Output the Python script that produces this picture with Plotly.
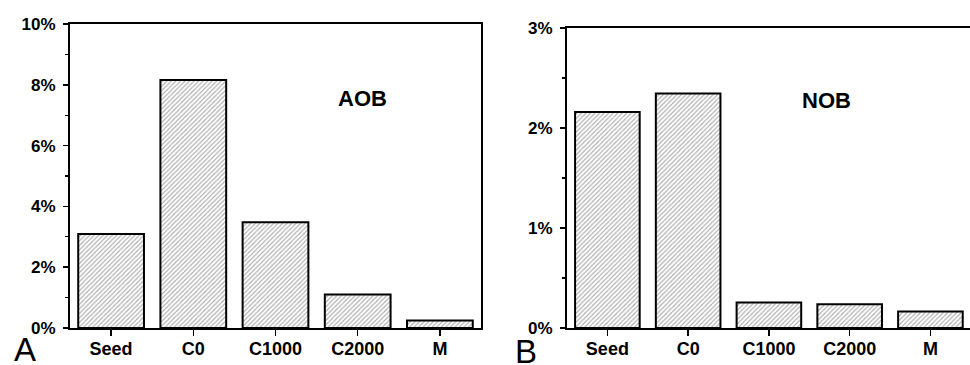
import plotly.graph_objects as go

categories = ["Seed", "C0", "C1000", "C2000", "M"]
aob_values = [3.09, 8.16, 3.48, 1.10, 0.25]
nob_values = [2.16, 2.345, 0.254, 0.237, 0.164]
aob_tickvals = [0, 2, 4, 6, 8, 10]
aob_ticktext = ["0%", "2%", "4%", "6%", "8%", "10%"]
nob_tickvals = [0, 1, 2, 3]
nob_ticktext = ["0%", "1%", "2%", "3%"]

W, H = 970, 365
fig = go.Figure()

bar_style = dict(
    width=0.8,
    marker=dict(
        color="white",
        line=dict(color="black", width=2),
        pattern=dict(shape="/", size=3.2, solidity=0.35, fgcolor="#555555", bgcolor="white"),
    ),
    showlegend=False,
)

fig.add_trace(go.Bar(x=categories, y=aob_values, xaxis="x", yaxis="y", **bar_style))
fig.add_trace(go.Bar(x=categories, y=nob_values, xaxis="x2", yaxis="y2", **bar_style))

tickfont = dict(family="Liberation Sans, Arial, sans-serif", size=17, color="black", weight="bold")

common_x = dict(
    showgrid=False, zeroline=False, showline=True, linecolor="black", linewidth=2,
    ticks="outside", ticklen=6, tickwidth=1.5, tickcolor="black",
    tickfont=dict(tickfont, size=18), ticklabelstandoff=-3, automargin=False,
    range=[-0.5, 4.5], fixedrange=True,
)
common_y = dict(
    showgrid=False, zeroline=False, showline=True, linecolor="black", linewidth=2,
    ticks="outside", ticklen=5, tickwidth=1.5, tickcolor="black",
    tickfont=tickfont, ticklabelstandoff=4, automargin=False, fixedrange=True,
)

fig.update_layout(
    width=W, height=H,
    margin=dict(l=0, r=0, t=0, b=0, autoexpand=False),
    paper_bgcolor="white", plot_bgcolor="white",
    bargap=0.2,
    xaxis=dict(common_x, domain=[70 / W, 481 / W], anchor="y", mirror=True),
    yaxis=dict(common_y, domain=[1 - 328 / H, 1 - 24 / H], anchor="x", mirror=True,
               range=[0, 10], tickvals=aob_tickvals, ticktext=aob_ticktext,
               minor=dict(ticks="outside", ticklen=3, dtick=1, tickwidth=1.2, tickcolor="black")),
    xaxis2=dict(common_x, domain=[567 / W, 1.0], anchor="y2", mirror=True, range=[-0.5, 4.49]),
    yaxis2=dict(common_y, domain=[1 - 328 / H, 1 - 28 / H], anchor="x2", mirror=False,
                range=[0, 3], tickvals=nob_tickvals, ticktext=nob_ticktext,
                minor=dict(ticks="outside", ticklen=3, dtick=0.5, tickwidth=1.2, tickcolor="black")),
    annotations=[
        dict(text="AOB", x=362 / W, y=1 - 84 / H, xref="paper", yref="paper", showarrow=False,
             font=dict(family="Liberation Sans, Arial, sans-serif", size=22, color="black", weight="bold")),
        dict(text="NOB", x=853 / W, y=1 - 86 / H, xref="paper", yref="paper", showarrow=False,
             font=dict(family="Liberation Sans, Arial, sans-serif", size=22, color="black", weight="bold")),
        dict(text="A", x=12 / W, y=1 - 370 / H, xref="paper", yref="paper", showarrow=False,
             xanchor="left", yanchor="bottom",
             font=dict(family="Liberation Sans, Arial, sans-serif", size=33, color="black")),
        dict(text="B", x=513 / W, y=1 - 372 / H, xref="paper", yref="paper", showarrow=False,
             xanchor="left", yanchor="bottom",
             font=dict(family="Liberation Sans, Arial, sans-serif", size=33, color="black")),
    ],
)

fig.write_html(
    "out.html",
    config={"displayModeBar": False, "staticPlot": True},
    post_script="document.body.style.margin='0';document.body.style.padding='0';"
                "document.documentElement.style.overflow='hidden';",
)
